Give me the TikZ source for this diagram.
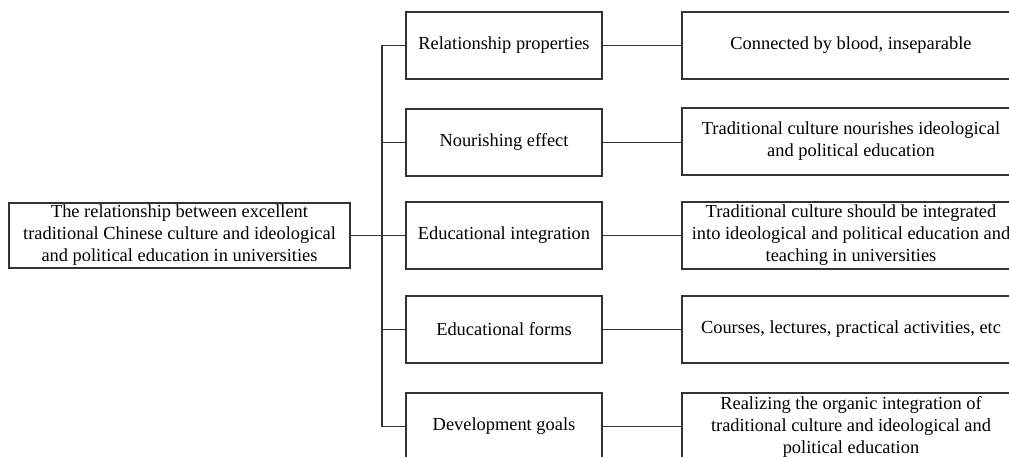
\documentclass[tikz,border=0pt]{standalone}
\usepackage{fontspec}
\setmainfont{Liberation Serif}
\begin{document}
\begin{tikzpicture}[x=1pt,y=-1pt,
  box/.style={draw=black!80,line width=1.1pt,align=center,inner sep=0pt,
    font=\fontsize{18.4}{22}\selectfont},
  rootbox/.style={box,minimum width=341pt,minimum height=65pt},
  midbox/.style={box,minimum width=196pt,minimum height=67pt},
  rightbox/.style={box,minimum width=338pt,minimum height=67pt},
  ln/.style={draw=black!80,line width=1.1pt}]
\useasboundingbox (0,0) rectangle (1009,457);
\clip (0,0) rectangle (1009,457);
\fill[white] (0,0) rectangle (1009,457);

\node[rootbox] (root) at (179.5,235.5) {The relationship between excellent\\traditional Chinese culture and ideological\\and political education in universities};

\node[midbox] (m1) at (504,45.5) {Relationship properties};
\node[midbox] (m2) at (504,142.5) {Nourishing effect};
\node[midbox] (m3) at (504,235.5) {Educational integration};
\node[midbox] (m4) at (504,329.5) {Educational forms};
\node[midbox] (m5) at (504,426.5) {Development goals};

\node[rightbox] (r1) at (851,45.5) {Connected by blood, inseparable};
\node[rightbox] (r2) at (851,141.5) {Traditional culture nourishes ideological\\and political education};
\node[rightbox] (r3) at (851,235.5) {Traditional culture should be integrated\\into ideological and political education and\\teaching in universities};
\node[rightbox] (r4) at (851,329.5) {Courses, lectures, practical activities, etc};
\node[rightbox] (r5) at (851,426.5) {Realizing the organic integration of\\traditional culture and ideological and\\political education};

\coordinate (bus) at (382,235.5);

\draw[ln] (root.east) -- (m3.west);
\draw[ln] (m1.west) -- (m1.west -| bus) -- (m5.west -| bus) -- (m5.west);
\draw[ln] (m2.west) -- (m2.west -| bus);
\draw[ln] (m4.west) -- (m4.west -| bus);

\draw[ln] (m1.east) -- (m1.east -| r1.west);
\draw[ln] (m2.east) -- (m2.east -| r2.west);
\draw[ln] (m3.east) -- (r3.west);
\draw[ln] (m4.east) -- (r4.west);
\draw[ln] (m5.east) -- (r5.west);
\end{tikzpicture}
\end{document}
